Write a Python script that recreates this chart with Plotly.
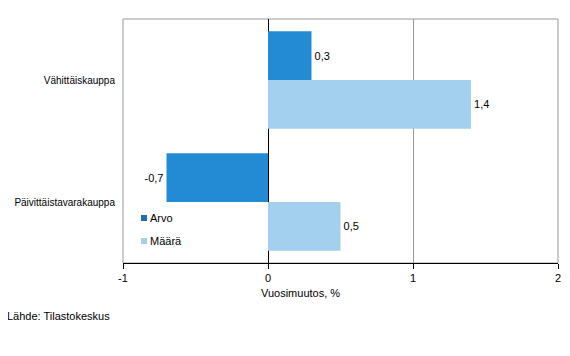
import plotly.graph_objects as go

categories = ["Vähittäiskauppa", "Päivittäistavarakauppa"]
series_names = ["Arvo", "Määrä"]
series_colors = ["#228BD4", "#A3D0EE"]
legend_colors = ["#1F6DB5", "#A3D0EE"]
arvo = [0.3, -0.7]
maara = [1.4, 0.5]
x_ticks = [-1, 0, 1, 2]

def fmt(v):
    return f"{v:.1f}".replace(".", ",")

FONT = "Liberation Sans, Arial, sans-serif"
OFF = 8  # default page body margin
W, H = 570 - OFF, 356 - OFF
ML, MR, MT, MB = 123 - OFF, 12, 19 - OFF, 93
PW, PH = W - ML - MR, H - MT - MB

fig = go.Figure()
for name, vals, col in zip(series_names, [arvo, maara], series_colors):
    fig.add_trace(go.Bar(
        y=categories, x=vals, orientation="h", name=name,
        marker=dict(color=col, line=dict(width=0)),
        text=[fmt(v) for v in vals], textposition="outside",
        textfont=dict(size=11, color="#000000", family=FONT),
        cliponaxis=False, showlegend=False,
    ))

# convert page pixel coordinates to paper coordinates
def px_x(p):
    return (p - OFF - ML) / PW

def px_y(p):
    return (H - MB - (p - OFF)) / PH

shapes = [dict(type="rect", xref="paper", yref="paper", x0=0, x1=1, y0=0, y1=1,
               line=dict(color="#999999", width=1), layer="below")]
annotations = [
    dict(text="Vuosimuutos, %", xref="paper", yref="paper",
         x=px_x(300), y=px_y(293), xanchor="center", yanchor="middle",
         showarrow=False, font=dict(size=11)),
    dict(text="Lähde: Tilastokeskus", xref="paper", yref="paper",
         x=px_x(5), y=px_y(316), xanchor="left", yanchor="middle",
         showarrow=False, font=dict(size=11)),
]
# manual legend
for i, (name, col) in enumerate(zip(series_names, legend_colors)):
    cy = 218 + 23 * i
    shapes.append(dict(type="rect", xref="paper", yref="paper",
                       x0=px_x(141), x1=px_x(147), y0=px_y(cy + 3), y1=px_y(cy - 3),
                       line=dict(width=0), fillcolor=col))
    annotations.append(dict(text=name, xref="paper", yref="paper",
                            x=px_x(148), y=px_y(cy), xanchor="left", yanchor="middle",
                            showarrow=False, font=dict(size=11)))

fig.update_layout(
    width=W, height=H,
    margin=dict(l=ML, r=MR, t=MT, b=MB, autoexpand=False),
    paper_bgcolor="white", plot_bgcolor="white",
    font=dict(family=FONT, size=11, color="#000000"),
    barmode="group", bargap=0.2, bargroupgap=0,
    showlegend=False,
    xaxis=dict(range=[-1, 2], tickvals=x_ticks,
               ticktext=[str(t) for t in x_ticks],
               showgrid=True, gridcolor="#999999", gridwidth=1,
               zeroline=True, zerolinecolor="#000000", zerolinewidth=1,
               showline=True, linecolor="#000000", linewidth=1,
               ticks="outside", ticklen=5, tickcolor="#000000",
               tickfont=dict(size=11), automargin=False),
    yaxis=dict(autorange="reversed", showgrid=False, zeroline=False,
               showline=False, ticks="", ticklabelstandoff=7,
               tickfont=dict(size=10), automargin=False),
    shapes=shapes,
    annotations=annotations,
)

fig.write_html("out.html")
